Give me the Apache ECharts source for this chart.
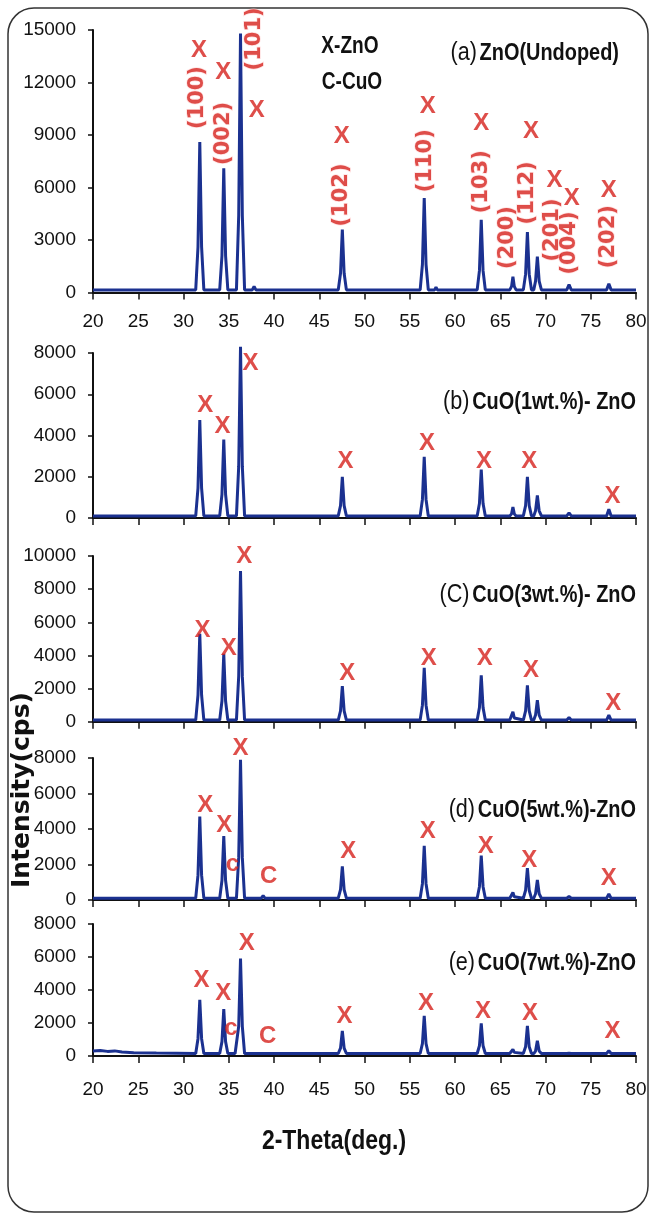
<!DOCTYPE html>
<html><head><meta charset="utf-8">
<script src="https://cdn.jsdelivr.net/npm/echarts@6/dist/echarts.min.js"></script>
<style>html,body{margin:0;padding:0;background:#fff;}#c{width:654px;height:1216px;}</style>
</head><body><div id="c"></div>
<script>
// ---------- data ----------
const panelTags = ['(a)', '(b)', '(C)', '(d)', '(e)'];
const sampleNames = ['ZnO(Undoped)', 'CuO(1wt.%)- ZnO', 'CuO(3wt.%)- ZnO', 'CuO(5wt.%)-ZnO', 'CuO(7wt.%)-ZnO'];
const legendLines = ['X-ZnO', 'C-CuO'];
const xMin = 20, xMax = 80, xStep = 5;
const yMax = [15000, 8000, 10000, 8000, 8000];
const yStep = [3000, 2000, 2000, 2000, 2000];

const scanA = [[20,150],
[31.35,150],[31.6,2600],[31.8,8600],[32.0,2600],[32.25,150],
[34.0,150],[34.25,2100],[34.45,7100],[34.65,2100],[34.9,150],
[35.85,150],[36.1,4400],[36.3,14800],[36.5,4400],[36.75,150],
[37.6,150],[37.8,350],[38.0,150],
[47.1,150],[47.35,1100],[47.55,3600],[47.75,1100],[48.0,150],
[56.15,150],[56.4,1600],[56.6,5400],[56.8,1600],[57.05,150],
[57.75,150],[57.9,300],[58.05,150],
[62.45,150],[62.7,1250],[62.9,4150],[63.1,1250],[63.35,150],
[64.2,150],[64.35,250],[64.5,150],
[66.05,150],[66.25,350],[66.4,900],[66.55,350],[66.75,150],
[67.55,150],[67.8,1050],[68.0,3450],[68.2,1050],[68.45,150],
[68.7,150],[68.9,650],[69.1,2050],[69.3,650],[69.55,150],
[72.35,150],[72.6,450],[72.85,150],
[76.75,150],[77.0,500],[77.25,150],
[80,150]];

const scanB = [[20,100],
[31.35,100],[31.6,1450],[31.8,4750],[32.0,1450],[32.25,100],
[34.0,100],[34.25,1150],[34.45,3800],[34.65,1150],[34.9,100],
[35.85,100],[36.1,2500],[36.3,8300],[36.5,2500],[36.75,100],
[47.1,100],[47.35,600],[47.55,2000],[47.75,600],[48.0,100],
[56.15,100],[56.4,900],[56.6,2970],[56.8,900],[57.05,100],
[62.45,100],[62.7,700],[62.9,2350],[63.1,700],[63.35,100],
[66.05,100],[66.25,200],[66.4,530],[66.55,200],[66.75,100],
[67.55,100],[67.8,600],[68.0,2000],[68.2,600],[68.45,100],
[68.7,100],[68.9,350],[69.1,1100],[69.3,350],[69.55,100],
[72.35,100],[72.6,250],[72.85,100],
[76.75,100],[77.0,420],[77.25,100],
[80,100]];

const scanC = [[20,100],
[31.35,100],[31.6,1600],[31.8,5300],[32.0,1600],[32.25,100],
[34.0,100],[34.25,1250],[34.45,4100],[34.65,1250],[34.9,100],
[35.85,100],[36.1,2750],[36.3,9100],[36.5,2750],[36.75,100],
[38.7,100],[38.9,200],[39.1,100],
[47.1,100],[47.35,650],[47.55,2150],[47.75,650],[48.0,100],
[48.6,100],[48.8,180],[49.0,100],
[56.15,100],[56.4,1000],[56.6,3250],[56.8,1000],[57.05,100],
[62.45,100],[62.7,850],[62.9,2800],[63.1,850],[63.35,100],
[66.05,100],[66.25,220],[66.4,600],[66.55,220],[66.75,100],
[67.55,100],[67.8,650],[68.0,2200],[68.2,650],[68.45,100],
[68.7,100],[68.9,400],[69.1,1300],[69.3,400],[69.55,100],
[72.35,100],[72.6,250],[72.85,100],
[76.75,100],[77.0,400],[77.25,100],
[80,100]];

const scanD = [[20,100],
[31.35,100],[31.6,1400],[31.8,4700],[32.0,1400],[32.25,100],
[34.0,100],[34.25,1100],[34.45,3600],[34.65,1100],[34.9,100],
[35.35,100],[35.5,150],
[35.85,100],[36.1,2400],[36.3,7900],[36.5,2400],[36.75,100],
[38.6,100],[38.8,240],[39.0,100],
[47.1,100],[47.35,580],[47.55,1900],[47.75,580],[48.0,100],
[56.15,100],[56.4,920],[56.6,3050],[56.8,920],[57.05,100],
[62.45,100],[62.7,750],[62.9,2500],[63.1,750],[63.35,100],
[66.05,100],[66.25,180],[66.4,420],[66.55,180],[66.75,100],
[67.55,100],[67.8,550],[68.0,1800],[68.2,550],[68.45,100],
[68.7,100],[68.9,350],[69.1,1130],[69.3,350],[69.55,100],
[72.35,100],[72.6,200],[72.85,100],
[76.75,100],[77.0,340],[77.25,100],
[80,100]];

const scanE = [[20,300],[20.8,340],[21.6,280],[22.4,310],[23.2,240],[24.5,200],[27,180],
[31.35,150],[31.6,1050],[31.8,3400],[32.0,1050],[32.25,150],
[34.0,150],[34.25,870],[34.45,2850],[34.65,870],[34.9,150],
[35.3,150],[35.5,250],[35.7,150],
[35.85,150],[36.1,1800],[36.3,5900],[36.5,1800],[36.75,150],
[38.6,150],[38.8,250],[39.0,150],
[47.1,150],[47.35,480],[47.55,1520],[47.75,480],[48.0,150],
[56.15,150],[56.4,750],[56.6,2430],[56.8,750],[57.05,150],
[62.45,150],[62.7,620],[62.9,1980],[63.1,620],[63.35,150],
[66.05,150],[66.25,220],[66.4,400],[66.55,220],[66.75,150],
[67.55,150],[67.8,560],[68.0,1820],[68.2,560],[68.45,150],
[68.7,150],[68.9,300],[69.1,930],[69.3,300],[69.55,150],
[72.35,150],[72.6,170],[72.85,150],
[76.75,150],[77.0,320],[77.25,150],
[80,150]];

// phase markers: [2theta, intensity, text]
const marksA = [[31.7,13820,'X'],[34.4,12580,'X'],[38.1,10430,'X'],[47.5,8900,'X'],[57.0,10620,'X'],
  [62.9,9670,'X'],[68.4,9190,'X'],[71.0,6430,'X'],[72.9,5380,'X'],[77.0,5860,'X']];
const hklA = [[31.6,11140,'(100)'],[34.4,9090,'(002)'],[37.8,14490,'(101)'],[47.5,5570,'(102)'],
  [56.7,7530,'(110)'],[62.9,6330,'(103)'],[65.8,3140,'(200)'],[68.0,5690,'(112)'],
  [70.8,3570,'(201)'],[72.7,2830,'(004)'],[77.0,3190,'(202)']];
const marksB = [[32.4,5480,'X'],[34.3,4430,'X'],[37.4,7500,'X'],[47.9,2730,'X'],[56.9,3620,'X'],
  [63.2,2730,'X'],[68.2,2730,'X'],[77.4,1070,'X']];
const marksC = [[32.1,5530,'X'],[35.0,4430,'X'],[36.7,9960,'X'],[48.1,2920,'X'],[57.1,3830,'X'],
  [63.3,3830,'X'],[68.4,3120,'X'],[77.5,1110,'X']];
const marksD = [[32.4,5350,'X'],[34.5,4225,'X'],[36.3,8550,'X'],[48.2,2720,'X'],[57.0,3850,'X'],
  [63.4,3000,'X'],[68.2,2250,'X'],[77.0,1220,'X'],[35.4,2030,'c'],[39.4,1310,'C']];
const marksE = [[32.0,4600,'X'],[34.4,3800,'X'],[37.0,6830,'X'],[47.8,2380,'X'],[56.8,3190,'X'],
  [63.1,2690,'X'],[68.3,2590,'X'],[77.4,1470,'X'],[35.25,1680,'c'],[39.3,1210,'C']];

const scans = [scanA, scanB, scanC, scanD, scanE];
const marks = [marksA, marksB, marksC, marksD, marksE];

// ---------- layout / style ----------
const SANS = "'Liberation Sans', Arial, sans-serif";
const WIDE = "'DejaVu Sans', Verdana, sans-serif";
const RED = '#d6221d';
const BLUE = '#1b3190';
const gridBoxes = [
  {top: 30, height: 262.5},
  {top: 353, height: 165},
  {top: 556, height: 165.7},
  {top: 758, height: 142},
  {top: 924, height: 132}
];
const tagY = [53, 402, 595, 810, 963];
const tagRight = [619, 636, 636, 636, 636];

const grids = gridBoxes.map(g => ({left: 93, right: 18, top: g.top, height: g.height, containLabel: false}));
const xAxes = gridBoxes.map((g, i) => ({
  type: 'value', gridIndex: i, min: xMin, max: xMax, interval: xStep,
  axisLine: {show: true, lineStyle: {color: '#111', width: 2}},
  axisTick: {show: true, inside: false, length: 7, lineStyle: {color: '#111', width: 1.5}},
  axisLabel: {show: i === 0 || i === 4, color: '#111', fontFamily: SANS, fontSize: 19,
    margin: i === 0 ? 20 : 24},
  splitLine: {show: false}
}));
const yAxes = gridBoxes.map((g, i) => ({
  type: 'value', gridIndex: i, min: 0, max: yMax[i], interval: yStep[i],
  axisLine: {show: true, lineStyle: {color: '#111', width: 2}},
  axisTick: {show: true, inside: false, length: 5, lineStyle: {color: '#111', width: 1.5}},
  axisLabel: {color: '#111', fontFamily: SANS, fontSize: 19, margin: 17, formatter: v => String(v)},
  splitLine: {show: false}
}));

const series = [];
scans.forEach((s, i) => {
  series.push({
    type: 'line', xAxisIndex: i, yAxisIndex: i, data: s, symbol: 'none', clip: false,
    lineStyle: {color: BLUE, width: 3}, silent: true, z: 3
  });
  series.push({
    type: 'scatter', xAxisIndex: i, yAxisIndex: i, data: marks[i], symbolSize: 1,
    itemStyle: {color: 'rgba(0,0,0,0)'}, silent: true, z: 5, clip: false,
    label: {show: true, position: 'inside', formatter: p => p.value[2],
      color: RED, fontFamily: SANS, fontWeight: 'bold', fontSize: 24}
  });
});
series.push({
  type: 'scatter', xAxisIndex: 0, yAxisIndex: 0, data: hklA, symbolSize: 1,
  itemStyle: {color: 'rgba(0,0,0,0)'}, silent: true, z: 5, clip: false,
  label: {show: true, position: 'inside', rotate: 90, formatter: p => p.value[2],
    color: RED, fontFamily: WIDE, fontWeight: 'bold', fontSize: 21,
    textBorderColor: 'rgba(255,210,210,0.8)', textBorderWidth: 1.5}
});

const graphics = [
  {type: 'rect', shape: {x: 8, y: 8, width: 640, height: 1204, r: 26},
   style: {fill: 'none', stroke: '#333', lineWidth: 1.5}, z: 0},
  {type: 'text', x: 350, y: 47, scaleX: 0.83, style: {text: legendLines[0], fontFamily: SANS, fontWeight: 'bold', fontSize: 23,
   fill: '#111', align: 'center', verticalAlign: 'middle'}},
  {type: 'text', x: 352, y: 83, scaleX: 0.83, style: {text: legendLines[1], fontFamily: SANS, fontWeight: 'bold', fontSize: 23,
   fill: '#111', align: 'center', verticalAlign: 'middle'}},
  {type: 'text', x: 22, y: 790, rotation: Math.PI / 2,
   style: {text: 'Intensity(cps)', fontFamily: WIDE, fontWeight: 'bold', fontSize: 25, fill: '#111',
   align: 'center', verticalAlign: 'middle'}},
  {type: 'text', x: 334, y: 1141, scaleX: 0.82,
   style: {text: '2-Theta(deg.)', fontFamily: SANS, fontWeight: 'bold', fontSize: 28, fill: '#111',
   align: 'center', verticalAlign: 'middle'}}
];
panelTags.forEach((t, i) => {
  graphics.push({type: 'text', x: tagRight[i], y: tagY[i], scaleX: 0.83,
    style: {text: '{p|' + t + '} {s|' + sampleNames[i] + '}', align: 'right', verticalAlign: 'middle', fill: '#111',
      rich: {p: {fontFamily: SANS, fontSize: 26, fill: '#111'},
             s: {fontFamily: SANS, fontWeight: 'bold', fontSize: 24, fill: '#111'}}}});
});

const chart = echarts.init(document.getElementById('c'), null, {renderer: 'canvas'});
chart.setOption({
  animation: false,
  backgroundColor: '#fff',
  grid: grids, xAxis: xAxes, yAxis: yAxes, series: series, graphic: graphics
});
</script></body></html>
